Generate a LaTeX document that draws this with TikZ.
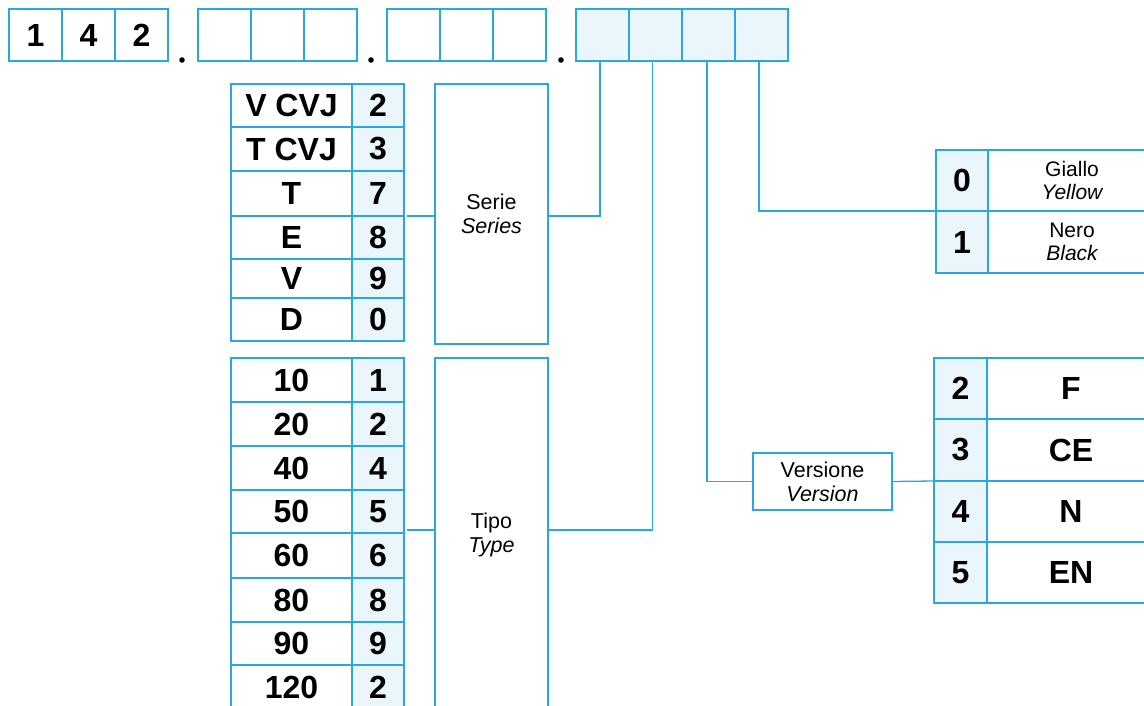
\documentclass[tikz,border=0pt]{standalone}
\usepackage{fontspec}
\setmainfont{Liberation Sans}
\definecolor{lb}{HTML}{29A8E0}
\definecolor{fl}{HTML}{EAF5FC}
\begin{document}
\begin{tikzpicture}[x=1pt,y=-1pt,
  every node/.style={inner sep=0pt,outer sep=0pt},
  ln/.style={draw=lb,line width=1.4pt},
  cellbox/.style={ln,anchor=north west,font=\bfseries\fontsize{32}{36}\selectfont},
  codebox/.style={cellbox,fill=fl},
  smallbox/.style={ln,anchor=north west,font=\bfseries\fontsize{32}{36}\selectfont},
  lbl/.style={ln,anchor=north west,align=center,font=\fontsize{21.5}{24}\selectfont},
  clr/.style={ln,anchor=north west,align=center,font=\fontsize{21}{23}\selectfont},
  conn/.style={draw=lb,line width=1.3pt},
  dotnode/.style={circle,fill=black,minimum size=5.6pt}]
\useasboundingbox (0,0) rectangle (1144,706);

% top code row
\foreach \x/\t [count=\i] in {9/1,62/4,115/2}
  \node[cellbox,minimum width=53pt,minimum height=52pt] (a\i) at (\x,9) {\t};
\foreach \x [count=\i] in {198,251,304}
  \node[cellbox,minimum width=53pt,minimum height=52pt] (b\i) at (\x,9) {};
\foreach \x [count=\i] in {387,440,493}
  \node[cellbox,minimum width=53pt,minimum height=52pt] (c\i) at (\x,9) {};
\foreach \x [count=\i] in {576,629,682,735}
  \node[codebox,minimum width=53pt,minimum height=52pt] (g\i) at (\x,9) {};
\node[dotnode] (d1) at (182,60) {};
\node[dotnode] (d2) at (371,60) {};
\node[dotnode] (d3) at (561,60) {};

% Serie table
\foreach \t/\c/\ya/\yb [count=\i] in {V CVJ/2/84/127,T CVJ/3/127/171,T/7/171/216,E/8/216/259,V/9/259/298,D/0/298/341}{
  \node[cellbox,minimum width=121pt,minimum height={(\yb-\ya)*1pt}] (sl\i) at (231,\ya) {\t};
  \node[codebox,minimum width=52pt,minimum height={(\yb-\ya)*1pt}] (sc\i) at (352,\ya) {\c};
}
\node[lbl,minimum width=113pt,minimum height=260pt] (serie) at (435,84) {Serie\\\itshape Series};

% Tipo table
\foreach \t/\c/\ya/\yb [count=\i] in {10/1/358/402,20/2/402/446,40/4/446/490,50/5/490/533,60/6/533/578,80/8/578/622,90/9/622/665,120/2/665/709}{
  \node[cellbox,minimum width=121pt,minimum height={(\yb-\ya)*1pt}] (tl\i) at (231,\ya) {\t};
  \node[codebox,minimum width=52pt,minimum height={(\yb-\ya)*1pt}] (tc\i) at (352,\ya) {\c};
}
\node[lbl,minimum width=113pt,minimum height=354pt] (tipo) at (435,358) {Tipo\\\itshape Type};

% Colour table
\node[codebox,minimum width=52pt,minimum height=61pt] (y0) at (936,150) {0};
\node[clr,minimum width=168pt,minimum height=61pt] (y0t) at (988,150) {Giallo\\\itshape Yellow};
\node[codebox,minimum width=52pt,minimum height=62pt] (y1) at (936,211) {1};
\node[clr,minimum width=168pt,minimum height=62pt] (y1t) at (988,211) {Nero\\\itshape Black};

% Version table
\foreach \c/\t/\ya/\yb [count=\i] in {2/F/358/419,3/CE/419/481,4/N/481/542,5/EN/542/603}{
  \node[smallbox,fill=fl,minimum width=53pt,minimum height={(\yb-\ya)*1pt}] (vc\i) at (934,\ya) {\c};
  \node[smallbox,minimum width=168pt,minimum height={(\yb-\ya)*1pt}] (vt\i) at (987,\ya) {\t};
}
\node[lbl,minimum width=139pt,minimum height=57pt] (ver) at (753,453) {Versione\\\itshape Version};

% connectors
\coordinate (sj) at (407,216);
\draw[conn] (sj) -- (serie.west |- sj);
\draw[conn] (serie.east |- sj) -| ([xshift=-2.5pt]g1.south);
\coordinate (tj) at (407,530);
\draw[conn] (tj) -- (tipo.west |- tj);
\draw[conn] (tipo.east |- tj) -| ([xshift=-3pt]g2.south);
\draw[conn] ([xshift=-1.5pt]g3.south) |- (ver.west);
\draw[conn] (ver.east) -- (vc2.south west);
\draw[conn] ([xshift=-2.5pt]g4.south) |- (y0.south west);
\end{tikzpicture}
\end{document}
